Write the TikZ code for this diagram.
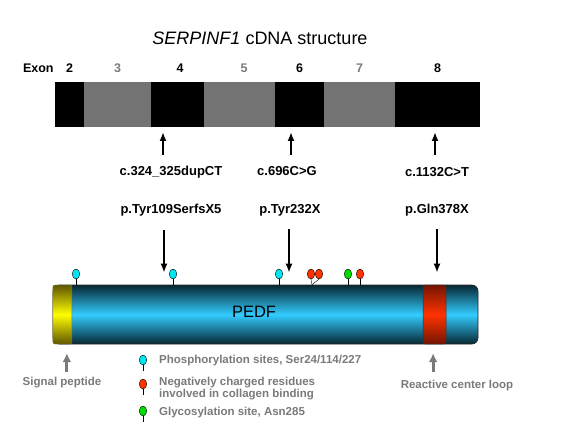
\documentclass[tikz,border=0pt]{standalone}
\usepackage{fontspec}
\setmainfont{Liberation Sans}
\definecolor{pedfblue}{RGB}{51, 204, 255}
\definecolor{pedfdark}{RGB}{6, 38, 50}
\definecolor{sigyellow}{RGB}{255, 255, 0}
\definecolor{sigdark}{RGB}{95, 85, 0}
\definecolor{rclred}{RGB}{255, 51, 0}
\definecolor{rcldark}{RGB}{115, 20, 0}
\definecolor{phoscyan}{RGB}{0, 230, 240}
\definecolor{glygreen}{RGB}{0, 220, 0}
\definecolor{labelgray}{RGB}{122, 122, 122}
\usetikzlibrary{shapes,arrows,arrows.meta,positioning}

\begin{document}
\begin{tikzpicture}[x=1pt, y=-1pt, node distance=0pt]
    \tikzstyle{exonblk} = [fill=black, rectangle, minimum height=45pt, inner sep=0pt, outer sep=0pt]
    \tikzstyle{exongry} = [fill=labelgray!105, rectangle, minimum height=45pt, inner sep=0pt, outer sep=0pt]
    \tikzstyle{num} = [font=\bfseries\fontsize{12.5}{14}\selectfont, inner sep=0pt]
    \tikzstyle{mut} = [font=\bfseries\fontsize{13}{15}\selectfont, inner sep=0pt]
    \tikzstyle{legtext} = [font=\bfseries\fontsize{11.5}{12}\selectfont, text=labelgray, align=left, inner sep=0pt]
    \tikzstyle{lolli} = [draw, ellipse, line width=0.4pt, minimum width=7.5pt, minimum height=10pt, inner sep=0pt]
    \tikzstyle{line} = [draw, -{Latex[length=9pt, width=7pt]}, line width=1.8pt]
    \tikzstyle{gline} = [draw, -{Latex[length=9pt, width=9pt]}, line width=3pt, labelgray]
    \useasboundingbox (0,0) rectangle (567,438);

    \node [font=\fontsize{18}{20}\selectfont] (title) at (260,38) {\textit{SERPINF1} cDNA structure};

    % exons along the cDNA
    \node [exonblk, minimum width=29pt, anchor=north west] (e2) at (55,82) {};
    \node [exongry, minimum width=67pt, right=of e2] (e3) {};
    \node [exonblk, minimum width=53pt, right=of e3] (e4) {};
    \node [exongry, minimum width=71pt, right=of e4] (e5) {};
    \node [exonblk, minimum width=49pt, right=of e5] (e6) {};
    \node [exongry, minimum width=71pt, right=of e6] (e7) {};
    \node [exonblk, minimum width=85pt, right=of e7] (e8) {};

    \node [num, above=9.5pt of e2] (x2) {2};
    \node [num, above=9.5pt of e3, text=labelgray] (x3) {3};
    \node [num, above=9.5pt of e4, xshift=2.5pt] (x4) {4};
    \node [num, above=9.5pt of e5, xshift=4.5pt, text=labelgray] (x5) {5};
    \node [num, above=9.5pt of e6] (x6) {6};
    \node [num, above=9.5pt of e7, text=labelgray] (x7) {7};
    \node [num, above=9.5pt of e8] (x8) {8};
    \node [num, left=12pt of x2] (exon) {Exon};

    % mutations
    \node [mut] (c1) at (171,172) {c.324\_325dupCT};
    \node [mut] (c2) at (287,171) {c.696C>G};
    \node [mut] (c3) at (437,172) {c.1132C>T};
    \node [mut] (p1) at (171,210) {p.Tyr109SerfsX5};
    \node [mut] (p2) at (290,210) {p.Tyr232X};
    \node [mut] (p3) at (437,210) {p.Gln378X};

    % PEDF protein
    \node [draw=black!85, line width=0.6pt, rounded corners=6pt, minimum width=425pt, minimum height=59pt,
           top color=pedfdark, bottom color=pedfdark, middle color=pedfblue] (pedf) at (265.5,314.5) {};
    \node [draw=sigdark!80, rounded corners=2pt, minimum width=19pt, minimum height=59pt, inner sep=0pt,
           top color=sigdark, bottom color=sigdark, middle color=sigyellow, right=0pt of pedf.west] (sp) {};
    \node [draw=black!80, rounded corners=2pt, minimum width=23pt, minimum height=59pt, inner sep=0pt,
           top color=rcldark, bottom color=rcldark, middle color=rclred, left=32pt of pedf.east] (rcl) {};
    \node [font=\fontsize{16.5}{18}\selectfont] (pname) at (254,312) {PEDF};

    \coordinate (u1) at (163,155);
    \coordinate (u2) at (291,155);
    \coordinate (u3) at (435,155);
    \coordinate (d1) at (164,230);
    \coordinate (d2) at (289,229);
    \coordinate (d3) at (437,229);
    \path [line, shorten >=5pt] (u1) -- (u1 |- e4.south);
    \path [line, shorten >=5pt] (u2) -- (u2 |- e6.south);
    \path [line, shorten >=5pt] (u3) -- (u3 |- e8.south);
    \path [line, shorten >=12pt] (d1) -- (d1 |- pedf.north);
    \path [line, shorten >=12pt] (d2) -- (d2 |- pedf.north);
    \path [line, shorten >=12pt] (d3) -- (d3 |- pedf.north);

    % sites on the protein
    \node [lolli, fill=phoscyan] (s24) at (76,274) {};
    \node [lolli, fill=phoscyan] (s114) at (173,274) {};
    \node [lolli, fill=phoscyan] (s227) at (279,274) {};
    \node [lolli, fill=rclred] (n1) at (311,274) {};
    \node [lolli, fill=rclred] (n2) at (319,274) {};
    \node [lolli, fill=glygreen] (g285) at (348,274) {};
    \node [lolli, fill=rclred] (n3) at (360,274) {};
    \draw (s24.south) -- (s24.south |- pedf.north);
    \draw (s114.south) -- (s114.south |- pedf.north);
    \draw (s227.south) -- (s227.south |- pedf.north);
    \draw (n1.south) -- ([xshift=1pt]n1.south |- pedf.north);
    \draw (n2.south) -- ([xshift=1pt]n1.south |- pedf.north);
    \draw (g285.south) -- (g285.south |- pedf.north);
    \draw (n3.south) -- (n3.south |- pedf.north);

    % domains
    \node [legtext] (sigtxt) at (62,383) {Signal peptide};
    \node [legtext] (rcltxt) at (457,386) {Reactive center loop};
    \path [gline, shorten <=5pt, shorten >=9pt] ([xshift=4.5pt]sp.south |- sigtxt.north) -- ([xshift=4.5pt]sp.south);
    \path [gline, shorten <=8pt, shorten >=9pt] ([xshift=-1.5pt]rcl.south |- rcltxt.north) -- ([xshift=-1.5pt]rcl.south);

    % legend
    \node [lolli, fill=phoscyan] (lp) at (143,360) {};
    \node [lolli, fill=rclred] (ln) at (143,384) {};
    \node [lolli, fill=glygreen] (lg) at (143,411) {};
    \draw (lp.south) -- ++(0,6);
    \draw (ln.south) -- ++(0,6);
    \draw (lg.south) -- ++(0,6);
    \node [legtext, anchor=west] (lptxt) at (159,361) {Phosphorylation sites, Ser24/114/227};
    \node [legtext, anchor=west] (lntxt) at (159,389) {Negatively charged residues\\involved in collagen binding};
    \node [legtext, anchor=west] (lgtxt) at (159,413) {Glycosylation site, Asn285};
\end{tikzpicture}
\end{document}
